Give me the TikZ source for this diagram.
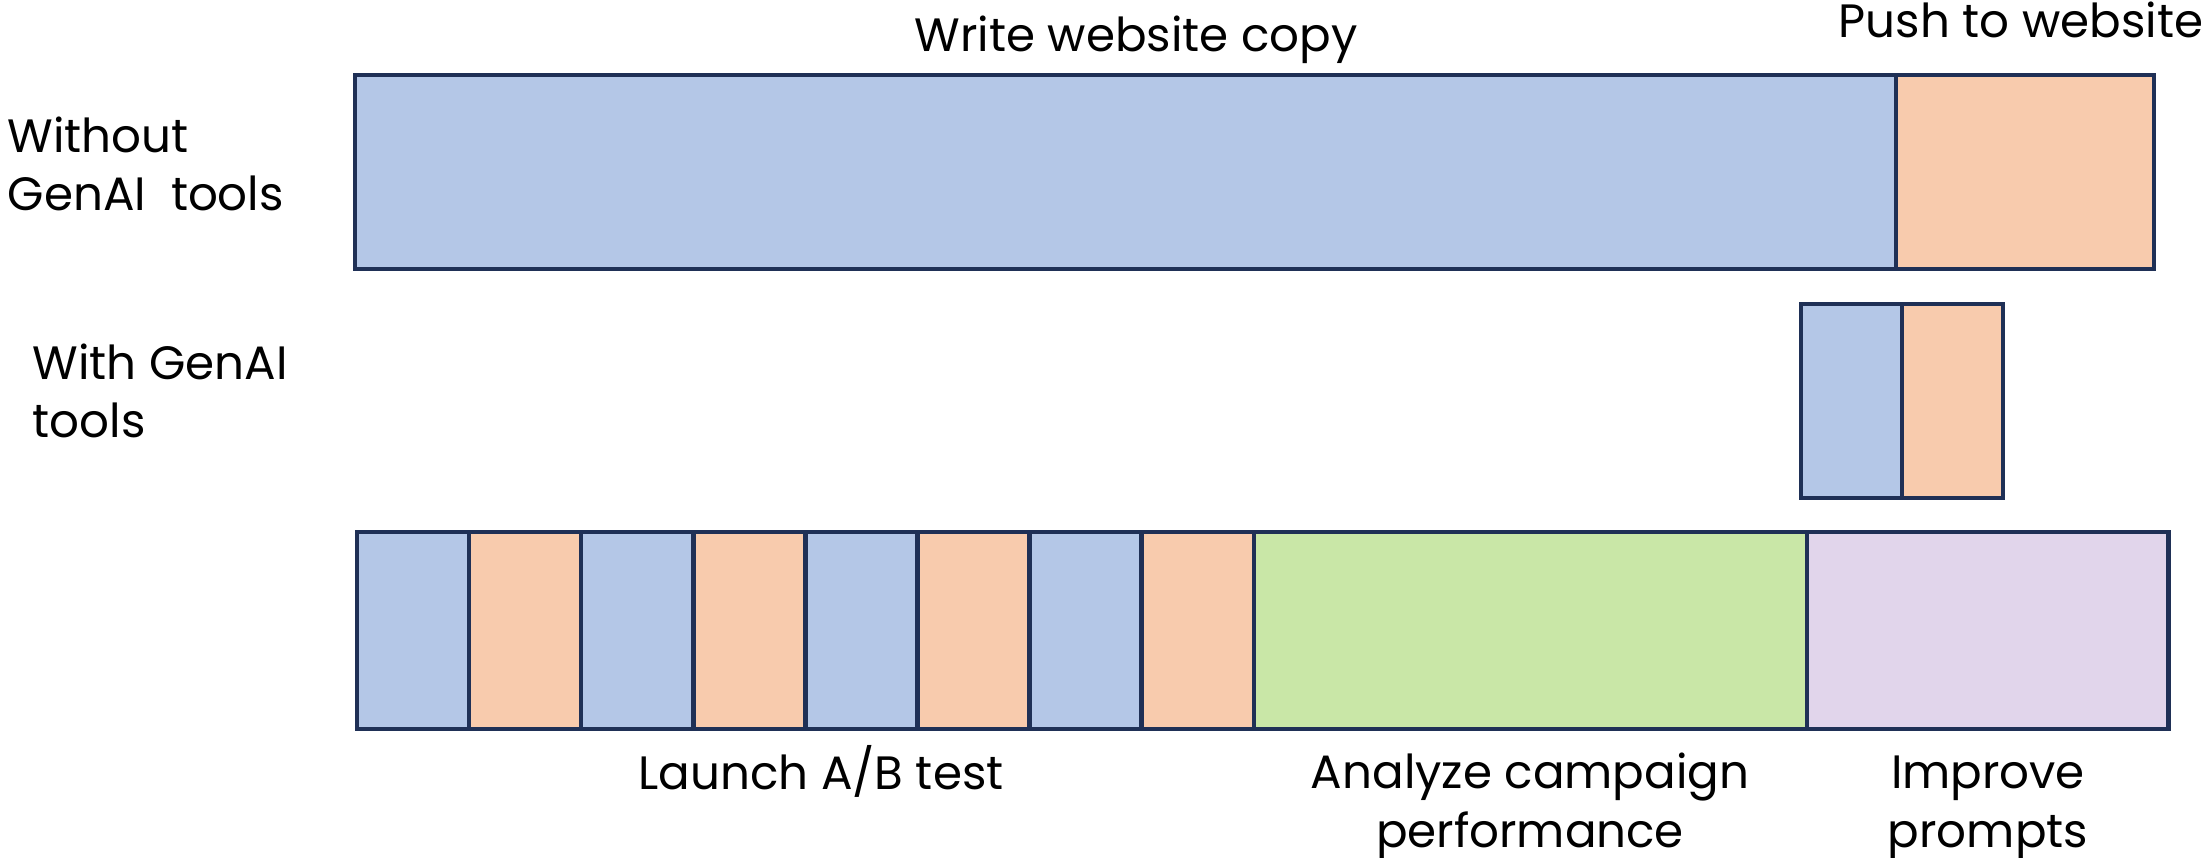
\documentclass[tikz,border=0pt]{standalone}
\usepackage{fontspec}
\setmainfont{Poppins}
\usepackage{tikz}
\usetikzlibrary{positioning}

\definecolor{navy}{HTML}{1F3056}
\definecolor{copyblue}{HTML}{B4C7E7}
\definecolor{pushorange}{HTML}{F8CBAD}
\definecolor{analyzegreen}{HTML}{C9E7A7}
\definecolor{promptpurple}{HTML}{E1D5EB}

\begin{document}
\begin{tikzpicture}[x=0.01cm,y=-0.01cm,
    bar/.style={draw=navy,line width=1.3pt,inner sep=0pt,outer sep=0pt,anchor=north west},
    lbl/.style={font=\fontsize{13.3}{16.5}\selectfont,inner sep=0pt}]
  \useasboundingbox (0,0) rectangle (2205,858);

  \node[bar,fill=copyblue,minimum width=15.40cm,minimum height=1.94cm] (wcopy) at (355,75) {};
  \node[bar,fill=pushorange,minimum width=2.58cm,minimum height=1.94cm,right=0pt of wcopy] (wpush) {};

  \node[bar,fill=copyblue,minimum width=1.01cm,minimum height=1.94cm] (gcopy) at (1801,304) {};
  \node[bar,fill=pushorange,minimum width=1.01cm,minimum height=1.94cm,right=0pt of gcopy] (gpush) {};

  \foreach \i/\c in {1/copyblue,2/pushorange,3/copyblue,4/pushorange,5/copyblue,6/pushorange,7/copyblue,8/pushorange}
    \node[bar,fill=\c,minimum width=1.121cm,minimum height=1.97cm] (ab\i) at ({357+(\i-1)*112.1},532) {};
  \node[bar,fill=analyzegreen,minimum width=5.53cm,minimum height=1.97cm,right=0pt of ab8] (analyze) {};
  \node[bar,fill=promptpurple,minimum width=3.61cm,minimum height=1.97cm,right=0pt of analyze] (improve) {};

  \node[lbl,anchor=base west,align=left] (without) at (7,211) {Without\\GenAI\ \ tools};
  \node[lbl,anchor=base west,align=left] (with) at (32,438) {With GenAI\\tools};

  \node[lbl,anchor=base] (writelbl) at (1136,52) {Write website copy};
  \node[lbl,anchor=base] (pushlbl) at (2021,38) {Push to website};

  \node[lbl,anchor=base] (launchlbl) at (821,790) {Launch A/B test};
  \node[lbl,anchor=base,align=center] (analyzelbl) at (1530,847) {Analyze campaign\\performance};
  \node[lbl,anchor=base,align=center] (improvelbl) at (1988,847) {Improve\\prompts};
\end{tikzpicture}
\end{document}
